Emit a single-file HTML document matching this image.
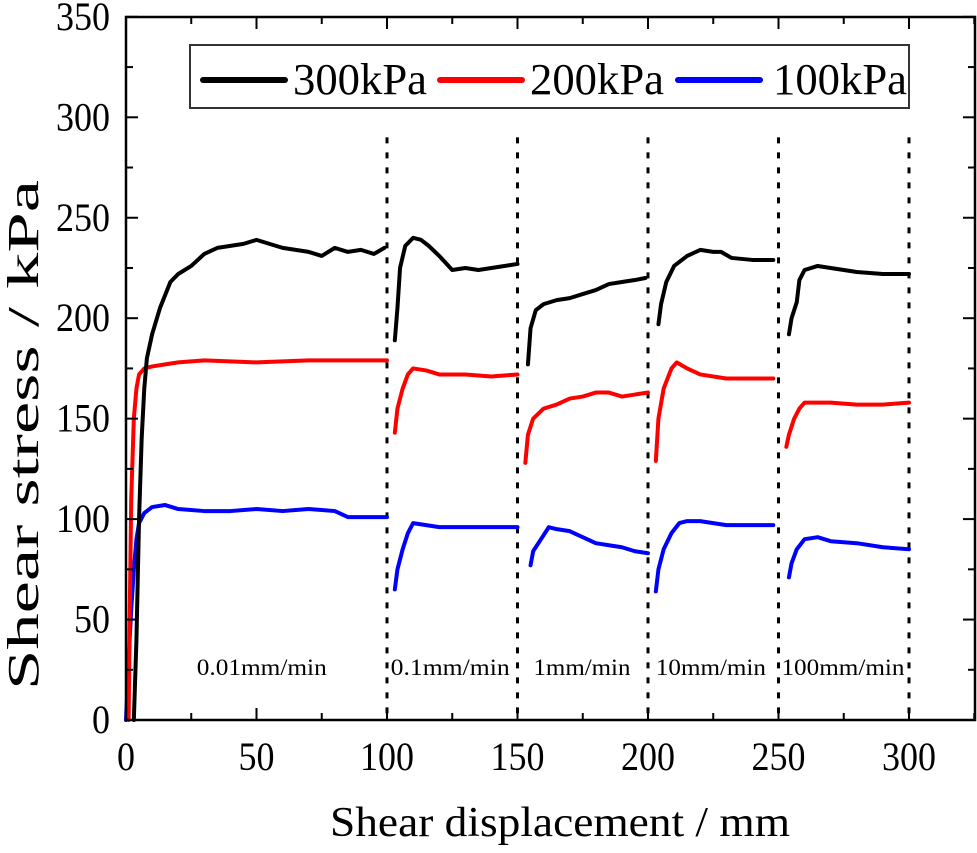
<!DOCTYPE html>
<html><head><meta charset="utf-8"><style>
html,body{margin:0;padding:0;background:#fff;}
svg{display:block;font-family:"Liberation Serif",serif;}
</style></head><body>
<svg id="chart" width="977" height="853" viewBox="0 0 977 853" xmlns="http://www.w3.org/2000/svg">
<g id="plot"></g>
</svg>
<script>
const xTicks=[0,50,100,150,200,250,300];
const yTicks=[0,50,100,150,200,250,300,350];
const dividers=[100,150,200,250,300];
const rateLabels=["0.01mm/min","0.1mm/min","1mm/min","10mm/min","100mm/min"];
const rateLabelX=[52,124.2,174.7,224.1,274.7];
const rateLabelW=[130,119,97,110,123];
const s300=[
[[3,0],[4,40],[5,100],[6,140],[7,165],[8,180],[10,192],[13,205],[17,218],[20,222],[25,226],[30,232],[35,235],[40,236],[45,237],[50,239],[55,237],[60,235],[65,234],[70,233],[75,231],[80,235],[85,233],[90,234],[95,232],[99,235]],
[[103,189],[104,205],[105,225],[107,236],[110,240],[113,239],[116,236],[120,231],[125,224],[130,225],[135,224],[140,225],[145,226],[150,227]],
[[154,177],[155,195],[157,204],[160,207],[165,209],[170,210],[175,212],[180,214],[185,217],[190,218],[195,219],[199,220]],
[[204,197],[205,207],[207,218],[210,226],[215,231],[220,234],[225,233],[228,233],[232,230],[240,229],[248,229]],
[[254,192],[255,200],[257,208],[258,219],[260,224],[265,226],[270,225],[280,223],[290,222],[300,222]]];
const s200=[
[[1,0],[1.5,60],[2,110],[3,150],[4,165],[5,172],[7,175],[10,176],[15,177],[20,178],[30,179],[50,178],[70,179],[100,179]],
[[103,143],[104,155],[106,165],[108,172],[110,175],[115,174],[120,172],[130,172],[140,171],[150,172]],
[[153,128],[154,142],[156,150],[160,155],[165,157],[170,160],[175,161],[180,163],[185,163],[190,161],[195,162],[200,163]],
[[203,129],[204,150],[206,165],[209,175],[211,178],[215,175],[220,172],[230,170],[240,170],[248,170]],
[[253,136],[254,142],[256,150],[258,155],[260,158],[270,158],[280,157],[290,157],[300,158]]];
const s100=[
[[0,0],[1,30],[2,55],[3,75],[4,90],[5,98],[7,103],[10,106],[15,107],[20,105],[30,104],[40,104],[50,105],[60,104],[70,105],[80,104],[85,101],[90,101],[100,101]],
[[103,65],[104,75],[106,85],[108,93],[110,98],[115,97],[120,96],[130,96],[140,96],[150,96]],
[[155,77],[156,84],[158,88],[160,92],[162,96],[165,95],[170,94],[175,91],[180,88],[185,87],[190,86],[195,84],[200,83]],
[[203,64],[204,75],[206,85],[209,93],[212,98],[215,99],[220,99],[225,98],[230,97],[240,97],[248,97]],
[[254,71],[255,78],[257,85],[260,90],[265,91],[270,89],[280,88],[290,86],[300,85]]];

const NS="http://www.w3.org/2000/svg";
const X0=126,XK=2.61,Y0=720,YK=2.009;
const sx=v=>X0+v*XK, sy=v=>Y0-v*YK;
const g=document.getElementById('plot');
function mk(tag,attrs,text){const e=document.createElementNS(NS,tag);for(const k in attrs)e.setAttribute(k,attrs[k]);if(text!==undefined)e.textContent=text;g.appendChild(e);return e;}

dividers.forEach(d=>{
 const l=mk('line',{x1:sx(d),x2:sx(d),y1:sy(290),y2:Y0,stroke:'#000','stroke-width':3,'stroke-dasharray':'6,9'});
 
 
});
function drawSeries(arr,color,name){
 arr.forEach((seg,i)=>{
  const p=mk('polyline',{points:seg.map(q=>sx(q[0])+','+sy(q[1])).join(' '),fill:'none',stroke:color,'stroke-width':4,'stroke-linejoin':'round','stroke-linecap':'round'});
  
  
 });
}
drawSeries(s100,'#0000ff','series-100kpa');
drawSeries(s200,'#ff0000','series-200kpa');
drawSeries(s300,'#000000','series-300kpa');

const fr=mk('rect',{x:X0,y:17,width:975-X0,height:Y0-17,fill:'none',stroke:'#000','stroke-width':2.5});


for(let v=0;v<=325;v+=25){
 const major=v%50===0,len=major?12:7;
 mk('line',{x1:sx(v),x2:sx(v),y1:Y0,y2:Y0-len,stroke:'#000','stroke-width':2});
 mk('line',{x1:sx(v),x2:sx(v),y1:17,y2:17+len,stroke:'#000','stroke-width':2});
}
xTicks.forEach(v=>{
 const s=String(v);
 const t=mk('text',{x:sx(v),y:Y0+50,'font-size':40,'text-anchor':'middle',textLength:s.length*18,lengthAdjust:'spacingAndGlyphs'},s);
 
 
});
for(let v=0;v<=350;v+=25){
 const major=v%50===0,len=major?12:7;
 mk('line',{x1:X0,x2:X0+len,y1:sy(v),y2:sy(v),stroke:'#000','stroke-width':2});
 mk('line',{x1:975,x2:975-len,y1:sy(v),y2:sy(v),stroke:'#000','stroke-width':2});
}
yTicks.forEach(v=>{
 const s=String(v);
 const t=mk('text',{x:110,y:sy(v)+13,'font-size':40,'text-anchor':'end',textLength:s.length*18,lengthAdjust:'spacingAndGlyphs'},s);
 
 
});
rateLabels.forEach((s,i)=>{
 const t=mk('text',{x:sx(rateLabelX[i]),y:675,'font-size':23,'text-anchor':'middle',textLength:rateLabelW[i],lengthAdjust:'spacingAndGlyphs'},s);
 
 
});
const xt=mk('text',{x:560,y:836,'font-size':42,'text-anchor':'middle',textLength:460,lengthAdjust:'spacingAndGlyphs'},'Shear displacement / mm');


const yt=mk('text',{x:0,y:0,'font-size':44,'text-anchor':'middle',textLength:510,lengthAdjust:'spacingAndGlyphs',transform:'translate(38,435) rotate(-90)'},'Shear stress / kPa');


const lb=mk('rect',{x:190,y:45,width:719,height:63,fill:'#fff',stroke:'#333','stroke-width':2});


const leg=[['300kPa','#000',203,293],['200kPa','#ff0000',440,530],['100kPa','#0000ff',678,773]];
leg.forEach(([lab,c,lx,tx])=>{
 const l=mk('line',{x1:lx,x2:lx+82,y1:80,y2:80,stroke:c,'stroke-width':6,'stroke-linecap':'round'});
 
 
 const t=mk('text',{x:tx,y:94,'font-size':44,textLength:134,lengthAdjust:'spacingAndGlyphs'},lab);
 
 
});
</script>
</body></html>
